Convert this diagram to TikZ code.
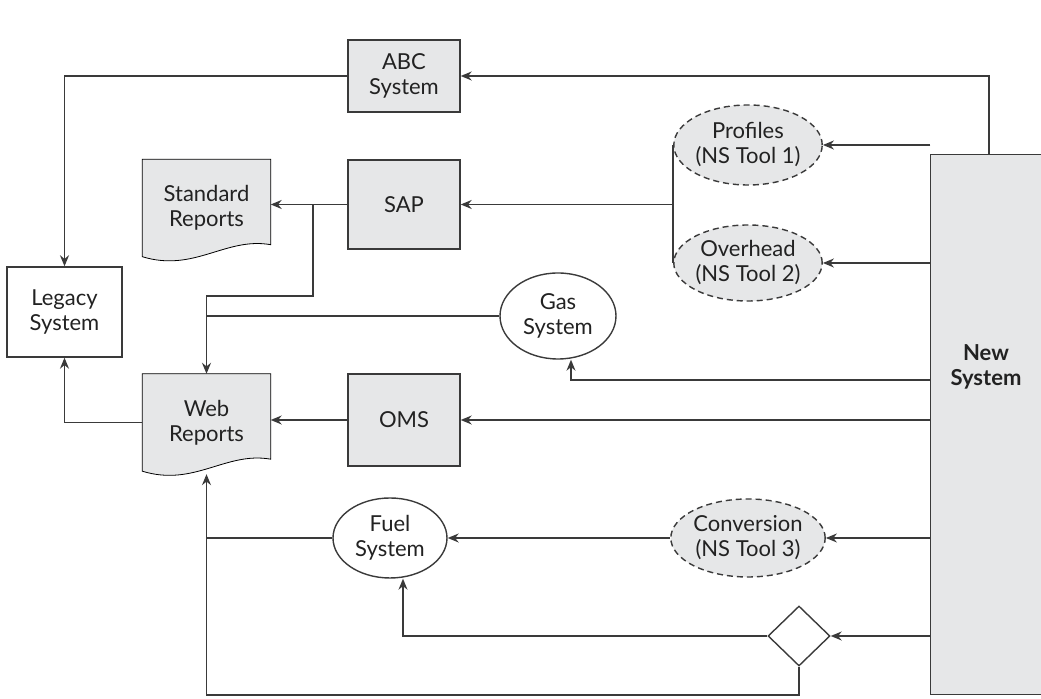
\documentclass[tikz,border=0pt]{standalone}
\usepackage{fontspec}
\setmainfont{Lato}
\usetikzlibrary{arrows.meta,positioning,calc,shapes.geometric,backgrounds}
\definecolor{linec}{HTML}{3A3A3A}
\definecolor{boxg}{HTML}{E6E7E8}
\definecolor{textc}{HTML}{222222}

\begin{document}
\begin{tikzpicture}[x=0.5pt,y=-0.5pt,font=\fontsize{11}{12.5}\selectfont,text=textc,
    line width=0.7pt,draw=linec,
    box/.style={draw=linec,fill=boxg,minimum width=56pt,align=center,inner sep=0pt},
    plainbox/.style={draw=linec,minimum width=57.5pt,minimum height=45pt,align=center,inner sep=0pt},
    doc/.style={minimum width=63.5pt,minimum height=48pt,align=center,inner sep=0pt},
    sys/.style={draw=linec,ellipse,align=center,inner sep=0pt},
    tool/.style={sys,fill=boxg,dash pattern=on 3pt off 2pt},
    arr/.style={draw=linec,-{Stealth[length=5.5pt,width=4.5pt]}}]
    \useasboundingbox (0,0) rectangle (1041,699);
    \node[box,minimum height=36pt] (abc) at (404,76) {ABC\\System};
    \node[box,minimum height=44.5pt] (sap) at (404,204.5) {SAP};
    \node[box,minimum height=46pt] (oms) at (404,420) {OMS};
    \node[plainbox] (legacy) at (64.5,312) {Legacy\\System};
    \node[doc] (std) at (206.5,208) {Standard\\Reports};
    \node[doc] (web) at (206.5,422.5) {Web\\Reports};
    \node[sys,minimum width=58pt,minimum height=43pt] (gas) at (558,316) {Gas\\System};
    \node[sys,minimum width=57pt,minimum height=40pt] (fuel) at (390,538) {Fuel\\System};
    \node[tool,minimum width=65pt,minimum height=40pt] (prof) at (748,145) {Profiles\\(NS Tool 1)};
    \node[tool,minimum width=65pt,minimum height=38pt] (over) at (748,263) {Overhead\\(NS Tool 2)};
    \node[tool,minimum width=64pt,minimum height=39pt] (conv) at (748,538) {Conversion\\(NS Tool 3)};
    \node[diamond,draw=linec,minimum width=31pt,minimum height=30pt,inner sep=0pt] (dia) at (799,636) {};
    \node[fill=boxg,minimum width=55pt,minimum height=269.5pt,inner sep=0pt] (new) at (986,424.5) {};
    \draw (new.north east) -- (new.north west) -- (new.south west) -- (new.south east);
    \node[font=\fontsize{11}{12.5}\selectfont\bfseries,align=center] (newlbl) at (986,367) {New\\System};
    \begin{scope}[on background layer]
      \foreach \d in {std,web}
        \draw[fill=boxg] (\d.north west) -- (\d.north east) -- ([yshift=6pt]\d.south east)
          .. controls ([xshift=-22.5pt,yshift=10pt]\d.south east) and ([xshift=26pt,yshift=-8pt]\d.south west) .. (\d.south west) -- cycle;
    \end{scope}
    \coordinate (split) at (313,204.5);
    \draw[arr] ([xshift=1.5pt]new.north) |- (abc.east);
    \draw[arr] (abc.west) -| (legacy.north);
    \draw[arr] (new.west |- prof.east) -- (prof.east);
    \draw[arr] (new.west |- over.east) -- (over.east);
    \draw (prof.west) -- (over.west);
    \draw[arr] (prof.west |- sap.east) -- (sap.east);
    \draw[arr] (sap.west) -- (std.east |- sap.west);
    \draw[arr] (split) -- (split |- 0,296) -| (web.north);
    \draw (gas.west) -- (gas.west -| web.north);
    \draw[arr] (new.west |- 0,380) -| ([xshift=6.5pt]gas.south);
    \draw[arr] (new.west |- oms.east) -- (oms.east);
    \draw[arr] (oms.west) -- (oms.west -| web.east);
    \draw[arr] (web.west) -| (legacy.south);
    \draw[arr] (new.west |- conv.east) -- (conv.east);
    \draw[arr] (conv.west) -- (fuel.east);
    \draw (fuel.west) -- (fuel.west -| web.south);
    \draw[arr] (new.west |- dia.east) -- (dia.east);
    \draw[arr] (dia.west) -| ([xshift=6.5pt]fuel.south);
    \draw[arr] (dia.south) -- (dia.south |- 0,695) -| ([yshift=-1.5pt]web.south);
  \end{tikzpicture}
\end{document}
